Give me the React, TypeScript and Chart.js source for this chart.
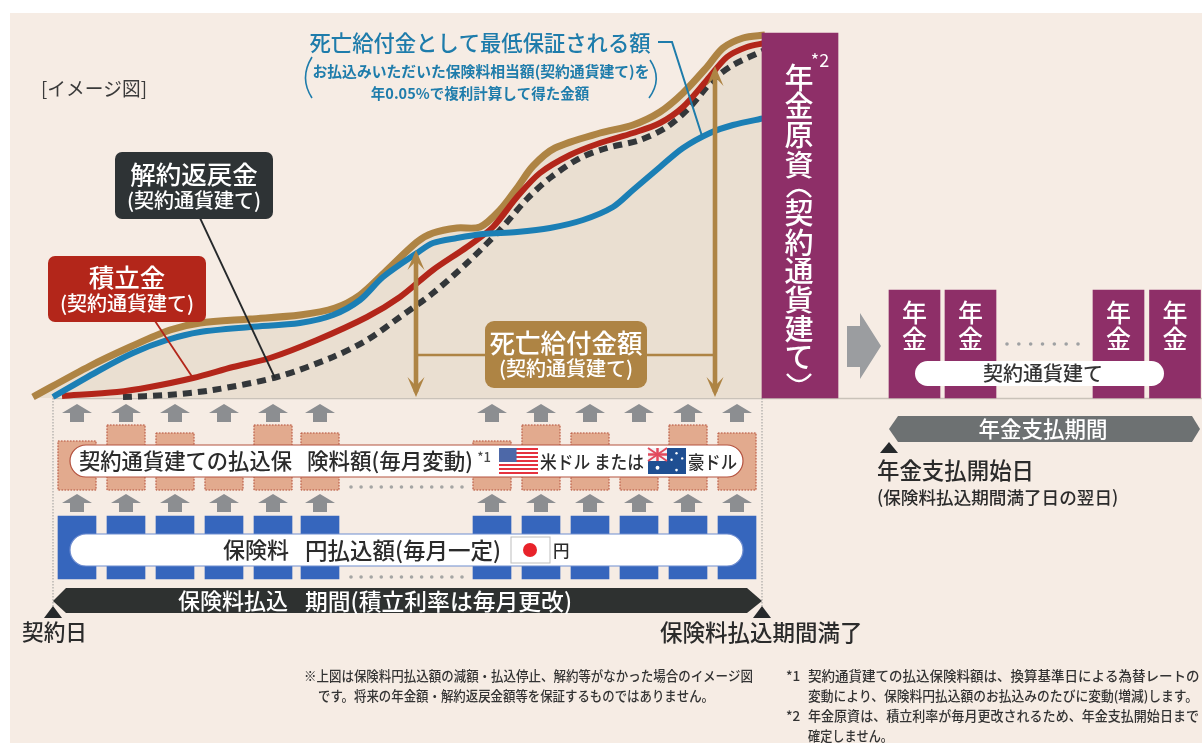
import React, { useEffect, useRef } from "react";
import { Chart, registerables } from "chart.js";

Chart.register(...registerables);

const FONT = '"Noto Sans CJK JP", "Noto Sans", sans-serif';

// Accumulation curves: horizontal position and amount above the zero line.
const goldX = [33, 90, 130, 170, 200, 250, 300, 335, 360, 385, 417, 433, 457, 480, 500, 517, 533, 555, 600, 633, 660, 683, 707, 723, 743, 765];
const deathBenefit = [1, 32, 51, 68, 75, 79, 83, 90, 103, 126, 156, 165, 170, 171, 188, 210, 232, 250, 265, 273, 286, 305, 331, 350, 360, 363];
const blueX = [53, 100, 133, 167, 200, 250, 300, 333, 360, 383, 417, 433, 457, 483, 517, 550, 583, 613, 633, 660, 683, 710, 733, 765];
const minimumGuarantee = [1, 28, 45, 58, 66, 71, 75, 83, 98, 121, 145, 155, 160, 164, 166, 170, 178, 191, 208, 231, 250, 265, 273, 280];
const redX = [62, 117, 150, 193, 233, 270, 317, 367, 400, 433, 467, 493, 517, 540, 570, 600, 633, 660, 683, 707, 727, 747, 765];
const accumulation = [2, 6, 11, 20, 31, 40, 58, 81, 101, 128, 151, 171, 201, 225, 243, 255, 265, 275, 291, 318, 341, 351, 355];
const dashX = [123, 167, 213, 277, 333, 367, 400, 433, 467, 500, 527, 550, 580, 607, 640, 667, 690, 713, 733, 765];
const surrenderValue = [1, 3, 8, 21, 41, 58, 81, 105, 135, 168, 199, 220, 240, 250, 258, 271, 291, 318, 333, 348];

// Monthly columns under the zero line.
const monthX = [77, 126, 175, 224, 273, 320, 492, 541, 590, 639, 688, 737];
const foreignTop = [-43, -27, -35, -49, -27, -35, -43, -27, -35, -49, -27, -35];
const foreignBottom = -92;
const yenTop = -118;
const yenBottom = -181;

// Lump sum and pension instalments.
const fundX = [800];
const fundAmount = [365];
const pensionX = [914.5, 970.5, 1118.5, 1175];
const pensionAmount = [108, 108, 108, 108];

// Arrows marking the death benefit at two moments.
const benefitArrowX = [416, 715];
const benefitArrowTop = [148, 332];

const pair = (xs: number[], ys: number[]) => xs.map((x, i) => ({ x, y: ys[i] }));

const text = (
  c: CanvasRenderingContext2D,
  s: string,
  x: number,
  y: number,
  size: number,
  color: string,
  align: CanvasTextAlign = "left",
  weight = 500,
  maxWidth?: number
) => {
  c.font = `${weight} ${size}px ${FONT}`;
  c.fillStyle = color;
  c.textAlign = align;
  c.textBaseline = "middle";
  if (maxWidth) c.fillText(s, x, y, maxWidth);
  else c.fillText(s, x, y);
};

const poly = (c: CanvasRenderingContext2D, pts: number[][], color: string) => {
  c.beginPath();
  pts.forEach(([x, y], i) => (i ? c.lineTo(x, y) : c.moveTo(x, y)));
  c.closePath();
  c.fillStyle = color;
  c.fill();
};

const segment = (c: CanvasRenderingContext2D, pts: number[][], color: string, width: number, dash: number[] = []) => {
  c.beginPath();
  pts.forEach(([x, y], i) => (i ? c.lineTo(x, y) : c.moveTo(x, y)));
  c.strokeStyle = color;
  c.lineWidth = width;
  c.setLineDash(dash);
  c.stroke();
  c.setLineDash([]);
};

const box = (c: CanvasRenderingContext2D, x: number, y: number, w: number, h: number, r: number, fill: string, stroke?: string) => {
  c.beginPath();
  c.roundRect(x, y, w, h, r);
  c.fillStyle = fill;
  c.fill();
  if (stroke) {
    c.strokeStyle = stroke;
    c.lineWidth = 1.2;
    c.stroke();
  }
};

const dots = (c: CanvasRenderingContext2D, x0: number, x1: number, y: number, n: number, color: string) => {
  c.fillStyle = color;
  for (let i = 0; i < n; i++) {
    c.beginPath();
    c.arc(x0 + ((x1 - x0) * i) / (n - 1), y, 1.8, 0, Math.PI * 2);
    c.fill();
  }
};

const upArrow = (c: CanvasRenderingContext2D, x: number, top: number) => {
  poly(
    c,
    [
      [x, top],
      [x + 15, top + 9],
      [x + 7, top + 9],
      [x + 7, top + 18],
      [x - 7, top + 18],
      [x - 7, top + 9],
      [x - 15, top + 9],
    ],
    "#8c8e91"
  );
};

const benefitArrowHead = (c: CanvasRenderingContext2D, x: number, tip: number, dir: number) => {
  poly(
    c,
    [
      [x, tip],
      [x + 8.5, tip + dir * 20],
      [x, tip + dir * 11],
      [x - 8.5, tip + dir * 20],
    ],
    "#ae8444"
  );
};

const usFlag = (c: CanvasRenderingContext2D, x: number, y: number, w: number, h: number) => {
  c.fillStyle = "#ffffff";
  c.fillRect(x, y, w, h);
  c.fillStyle = "#e5323f";
  for (let i = 0; i < 7; i++) c.fillRect(x, y + (i * h * 2) / 13, w, h / 13);
  c.fillStyle = "#4d68a8";
  c.fillRect(x, y, w * 0.45, (h * 7) / 13);
};

const auFlag = (c: CanvasRenderingContext2D, x: number, y: number, w: number, h: number) => {
  c.fillStyle = "#1f4f92";
  c.fillRect(x, y, w, h);
  const cw = w * 0.5;
  const ch = h * 0.5;
  c.fillStyle = "#f3f3f6";
  c.fillRect(x, y, cw, ch);
  segment(c, [[x, y], [x + cw, y + ch]], "#e24a5d", 2);
  segment(c, [[x + cw, y], [x, y + ch]], "#e24a5d", 2);
  segment(c, [[x, y + ch / 2], [x + cw, y + ch / 2]], "#e24a5d", 2.5);
  segment(c, [[x + cw / 2, y], [x + cw / 2, y + ch]], "#e24a5d", 2.5);
  c.fillStyle = "#ffffff";
  [[0.25, 0.76, 1.9], [0.75, 0.2, 1.2], [0.9, 0.4, 1.2], [0.62, 0.45, 1.2], [0.75, 0.85, 1.3]].forEach(([a, b, r]) => {
    c.beginPath();
    c.arc(x + a * w, y + b * h, r, 0, Math.PI * 2);
    c.fill();
  });
};

// Paints the tinted panel behind the marks.
const panelPlugin = {
  id: "panel",
  beforeDatasetsDraw(chart: Chart) {
    const c = chart.ctx;
    c.save();
    c.fillStyle = "#ffffff";
    c.fillRect(0, 0, 1202, 743);
    c.fillStyle = "#f6ece4";
    c.fillRect(10, 13, 1192, 730);
    const zero = chart.scales.y.getPixelForValue(0);
    segment(c, [[53, zero + 0.5], [1202, zero + 0.5]], "#c9c2b9", 1.5);
    segment(c, [[53, zero], [53, 606]], "#9a9a98", 1, [1.5, 1.5]);
    segment(c, [[762, zero], [762, 606]], "#9a9a98", 1, [1.5, 1.5]);
    c.restore();
  },
};

// Callouts, labels and pills drawn over the series.
const labelPlugin = {
  id: "labels",
  afterDatasetsDraw(chart: Chart) {
    const c = chart.ctx;
    const xs = chart.scales.x;
    const ys = chart.scales.y;
    const zero = ys.getPixelForValue(0);
    c.save();

    // Dotted outline of the foreign-currency columns
    chart.getDatasetMeta(4).data.forEach((bar: any) => {
      const half = bar.width / 2;
      c.strokeStyle = "#b4523f";
      c.lineWidth = 1;
      c.setLineDash([1.5, 1.5]);
      c.strokeRect(bar.x - half, bar.y, bar.width, bar.base - bar.y);
      c.setLineDash([]);
    });

    monthX.forEach((m) => {
      const px = xs.getPixelForValue(m);
      upArrow(c, px, ys.getPixelForValue(-6));
      upArrow(c, px, ys.getPixelForValue(-96));
    });

    text(c, "[イメージ図]", 41, 89, 19, "#3a3a3a", "left", 400, 106);

    // Blue caption
    text(c, "死亡給付金として最低保証される額", 480, 43, 22, "#1e7cab", "center", 500, 341);
    text(c, "お払込みいただいた保険料相当額(契約通貨建て)を", 481, 71, 15, "#1e7cab", "center", 700, 337);
    text(c, "年0.05%で複利計算して得た金額", 480, 93, 14.5, "#1e7cab", "center", 700, 219);
    c.strokeStyle = "#1e7cab";
    c.lineWidth = 1.6;
    c.beginPath();
    c.moveTo(312, 57);
    c.quadraticCurveTo(299, 78, 312, 98);
    c.moveTo(650, 60);
    c.quadraticCurveTo(663, 79, 649, 98);
    c.stroke();
    segment(c, [[658, 42], [672, 42], [702, 136]], "#1e7cab", 2);

    // Callout leaders and boxes
    segment(c, [[200, 218], [275, 378]], "#26292b", 1.8);
    segment(c, [[155, 321], [193, 378]], "#b3261a", 1.8);
    box(c, 115, 152, 158, 67, 7, "#2e3335");
    text(c, "解約返戻金", 194, 174, 25.5, "#ffffff", "center");
    text(c, "(契約通貨建て)", 194, 200, 20, "#ffffff", "center", 500, 137);
    box(c, 48, 256, 158, 66, 7, "#b3261a");
    text(c, "積立金", 127, 277, 25.5, "#ffffff", "center");
    text(c, "(契約通貨建て)", 127, 303, 20, "#ffffff", "center", 500, 137);

    // Death benefit arrows
    const level = zero - 43;
    segment(c, [[benefitArrowX[0], level], [benefitArrowX[1], level]], "#ae8444", 2.4);
    benefitArrowX.forEach((bx, i) => {
      const top = ys.getPixelForValue(benefitArrowTop[i]);
      const px = xs.getPixelForValue(bx);
      segment(c, [[px, top + 6], [px, zero - 6]], "#ae8444", 4.6);
      benefitArrowHead(c, px, top, 1);
      benefitArrowHead(c, px, zero - 1, -1);
    });
    box(c, 485, 321, 162, 67, 9, "#ae8444");
    text(c, "死亡給付金額", 566, 343, 26, "#ffffff", "center", 500, 153);
    text(c, "(契約通貨建て)", 566, 368, 20, "#ffffff", "center", 500, 137);

    // Vertical fund title
    const title = ["年", "金", "原", "資", "", "契", "約", "通", "貨", "建", "て", ""];
    const titleY = [78, 106, 135, 165, 0, 213, 243, 271, 300, 329, 357, 0];
    title.forEach((ch, i) => {
      if (ch) text(c, ch, 799, titleY[i], 29, "#ffffff", "center");
    });
    c.strokeStyle = "#ffffff";
    c.lineWidth = 2.4;
    c.beginPath();
    c.moveTo(787, 197);
    c.quadraticCurveTo(799, 183, 811, 197);
    c.moveTo(787, 374);
    c.quadraticCurveTo(799, 388, 811, 374);
    c.stroke();
    text(c, "*2", 820, 60, 18, "#ffffff", "center", 400);

    // Pension side
    poly(c, [[847, 326], [860, 326], [860, 313], [881, 346], [860, 379], [860, 367], [847, 367]], "#9b9da0");
    pensionX.forEach((p) => {
      const px = xs.getPixelForValue(p);
      text(c, "年", px, 312, 25, "#ffffff", "center");
      text(c, "金", px, 338, 25, "#ffffff", "center");
    });
    dots(c, 1007, 1078, 344, 7, "#9fa1a3");
    box(c, 915, 361, 249, 25, 12.5, "#ffffff");
    text(c, "契約通貨建て", 1043, 373.5, 20, "#333333", "center", 500);
    poly(c, [[889, 429], [898, 416], [1192, 416], [1200, 429], [1192, 442], [898, 442]], "#6d7172");
    text(c, "年金支払期間", 1043, 429, 21.5, "#ffffff", "center", 500, 132);
    poly(c, [[889, 442], [898, 453], [880, 453]], "#26292b");
    text(c, "年金支払開始日", 877, 470, 22.5, "#2b2b2b", "left", 500, 157);
    text(c, "(保険料払込期間満了日の翌日)", 877, 497, 17.6, "#2b2b2b", "left", 500, 244);

    // Foreign-currency pill
    box(c, 70, 445, 673, 32, 16, "#ffffff", "#b4523f");
    text(c, "契約通貨建ての払込保", 79, 461, 21.5, "#2b2b2b", "left", 500, 213);
    text(c, "険料額(毎月変動)", 307, 461, 21.8, "#2b2b2b", "left", 500, 166);
    text(c, "*1", 484, 457, 13, "#4a4a4a", "center", 500);
    usFlag(c, 499, 448, 39, 26);
    text(c, "米ドル または", 540, 462, 18, "#2b2b2b", "left", 500, 104);
    auFlag(c, 648, 448, 38, 26);
    text(c, "豪ドル", 688, 462, 18, "#2b2b2b", "left", 500, 49);
    dots(c, 351, 462, 487, 12, "#a5a5a3");

    // Yen pill
    box(c, 70, 534, 673, 32, 16, "#ffffff", "#6f8dd0");
    text(c, "保険料", 223, 550, 22, "#2b2b2b", "left", 500, 66);
    text(c, "円払込額(毎月一定)", 305, 550, 22.6, "#2b2b2b", "left", 500, 196);
    c.fillStyle = "#ffffff";
    c.fillRect(511, 537, 39, 26);
    c.strokeStyle = "#bdbdbd";
    c.lineWidth = 1;
    c.strokeRect(511, 537, 39, 26);
    c.fillStyle = "#e8232a";
    c.beginPath();
    c.arc(530, 550, 7, 0, Math.PI * 2);
    c.fill();
    text(c, "円", 553, 551, 16.5, "#2b2b2b");
    dots(c, 351, 462, 577, 12, "#a5a5a3");

    // Premium payment period
    poly(c, [[53, 601], [66, 588], [747, 588], [762, 601], [747, 613], [66, 613]], "#2e3130");
    text(c, "保険料払込", 178, 601, 22, "#ffffff", "left", 500, 112);
    text(c, "期間(積立利率は毎月更改)", 305, 601, 22.8, "#ffffff", "left", 500, 267);
    poly(c, [[53, 606], [62, 618], [44, 618]], "#26292b");
    poly(c, [[762, 606], [771, 618], [753, 618]], "#26292b");
    text(c, "契約日", 22, 632, 22, "#2b2b2b", "left", 500, 65);
    text(c, "保険料払込期間満了", 660, 632, 22.5, "#2b2b2b", "left", 500, 203);

    // Notes
    const note = "#333333";
    text(c, "※上図は保険料円払込額の減額・払込停止、解約等がなかった場合のイメージ図", 304, 676, 13.5, note, "left", 500, 449);
    text(c, "です。将来の年金額・解約返戻金額等を保証するものではありません。", 318, 696, 13.5, note, "left", 500, 396);
    text(c, "*1", 786, 676, 13.5, note, "left", 500);
    text(c, "契約通貨建ての払込保険料額は、換算基準日による為替レートの", 808, 676, 13.5, note, "left", 500, 392);
    text(c, "変動により、保険料円払込額のお払込みのたびに変動(増減)します。", 808, 696, 13.5, note, "left", 500, 390);
    text(c, "*2", 786, 716, 13.5, note, "left", 500);
    text(c, "年金原資は、積立利率が毎月更改されるため、年金支払開始日まで", 808, 716, 13.5, note, "left", 500, 391);
    text(c, "確定しません。", 808, 736, 13.5, note, "left", 500, 85);

    c.restore();
  },
};

export default function App() {
  const ref = useRef<HTMLCanvasElement>(null);

  useEffect(() => {
    if (!ref.current) return;
    const lineBase = {
      type: "line" as const,
      pointRadius: 0,
      tension: 0.3,
      fill: false,
    };
    const chart = new Chart(ref.current, {
      type: "line",
      data: {
        datasets: [
          {
            ...lineBase,
            label: "死亡給付金額",
            data: pair(goldX, deathBenefit),
            borderColor: "#ae8444",
            borderWidth: 7,
            fill: { value: 0 },
            backgroundColor: "#eadfd1",
            order: 8,
          },
          {
            ...lineBase,
            label: "解約返戻金",
            data: pair(dashX, surrenderValue),
            borderColor: "#33373a",
            borderWidth: 6,
            borderDash: [9, 6],
            order: 7,
          },
          {
            ...lineBase,
            label: "積立金",
            data: pair(redX, accumulation),
            borderColor: "#b3261a",
            borderWidth: 6,
            order: 6,
          },
          {
            ...lineBase,
            label: "死亡給付金として最低保証される額",
            data: pair(blueX, minimumGuarantee),
            borderColor: "#1b7fb5",
            borderWidth: 6,
            order: 5,
          },
          {
            type: "bar",
            label: "契約通貨建ての払込保険料額",
            data: monthX.map((x, i) => ({ x, y: [foreignBottom, foreignTop[i]] })),
            backgroundColor: "#e2aa8e",
            barThickness: 38,
            grouped: false,
            order: 4,
          },
          {
            type: "bar",
            label: "保険料円払込額",
            data: monthX.map((x) => ({ x, y: [yenBottom, yenTop] })),
            backgroundColor: "#3666bd",
            barThickness: 38,
            grouped: false,
            order: 3,
          },
          {
            type: "bar",
            label: "年金原資",
            data: fundX.map((x, i) => ({ x, y: [0, fundAmount[i]] })),
            backgroundColor: "#8e2f68",
            barThickness: 76,
            grouped: false,
            order: 2,
          },
          {
            type: "bar",
            label: "年金",
            data: pensionX.map((x, i) => ({ x, y: [0, pensionAmount[i]] })),
            backgroundColor: "#8e2f68",
            barThickness: 51,
            grouped: false,
            order: 1,
          },
        ] as any,
      },
      options: {
        responsive: false,
        animation: false,
        layout: { padding: 0 },
        plugins: { legend: { display: false }, tooltip: { enabled: false } },
        scales: {
          x: { type: "linear", min: 0, max: 1202, display: false, offset: false },
          y: { type: "linear", min: -345, max: 398, display: false },
        },
      },
      plugins: [panelPlugin, labelPlugin],
    });
    return () => chart.destroy();
  }, []);

  return (
    <canvas
      ref={ref}
      width={1202}
      height={743}
      style={{ position: "absolute", left: 0, top: 0, display: "block" }}
    />
  );
}
